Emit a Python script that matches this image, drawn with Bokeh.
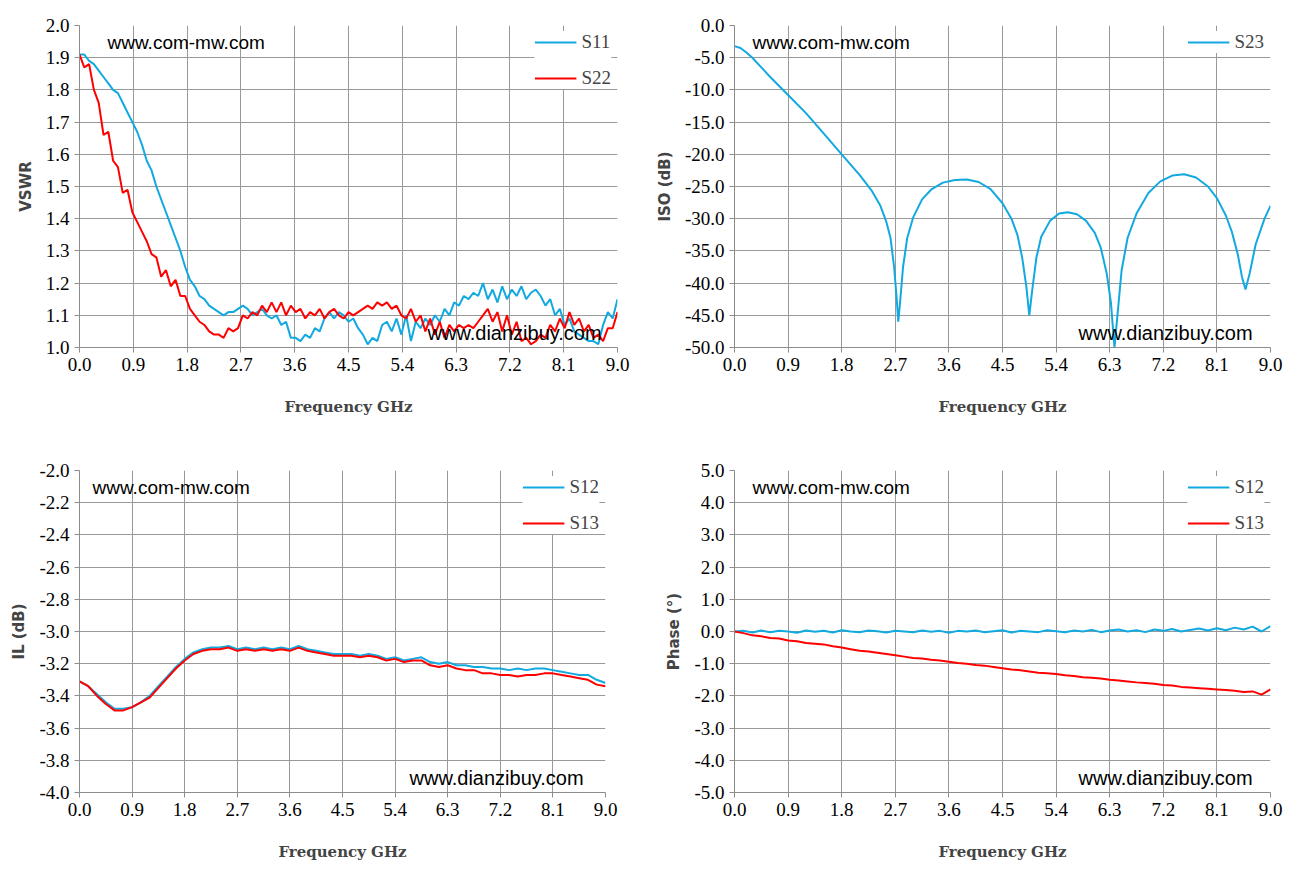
import numpy as np
from bokeh.plotting import figure
from bokeh.layouts import gridplot
from bokeh.models import FixedTicker, NumeralTickFormatter, Label, Legend, LegendItem, Range1d
from bokeh.embed import file_html
from bokeh.resources import INLINE

# VSWR (0..9 GHz, equal steps)
s11_vswr = [1.91, 1.91, 1.89, 1.88, 1.86, 1.84, 1.82, 1.80, 1.79, 1.76, 1.73, 1.70, 1.67, 1.63, 1.58, 1.55,
            1.50, 1.46, 1.42, 1.38, 1.34, 1.30, 1.25, 1.21, 1.19, 1.16, 1.15, 1.13, 1.12, 1.11, 1.10, 1.11,
            1.11, 1.12, 1.13, 1.12, 1.10, 1.11, 1.12, 1.10, 1.09, 1.10, 1.07, 1.08, 1.03, 1.03, 1.02, 1.04,
            1.03, 1.06, 1.05, 1.09, 1.11, 1.09, 1.11, 1.10, 1.08, 1.09, 1.06, 1.04, 1.01, 1.03, 1.02, 1.07,
            1.08, 1.05, 1.09, 1.04, 1.10, 1.02, 1.08, 1.06, 1.09, 1.07, 1.10, 1.08, 1.12, 1.10, 1.14, 1.13,
            1.16, 1.15, 1.17, 1.16, 1.20, 1.15, 1.18, 1.14, 1.19, 1.15, 1.18, 1.16, 1.19, 1.15, 1.17, 1.18,
            1.16, 1.13, 1.15, 1.10, 1.12, 1.07, 1.09, 1.05, 1.04, 1.03, 1.02, 1.02, 1.01, 1.07, 1.11, 1.09, 1.15]
s22_vswr = [1.91, 1.87, 1.88, 1.80, 1.76, 1.66, 1.67, 1.58, 1.56, 1.48, 1.49, 1.42, 1.39, 1.36, 1.33, 1.29,
            1.28, 1.22, 1.24, 1.19, 1.21, 1.16, 1.16, 1.12, 1.10, 1.08, 1.07, 1.05, 1.04, 1.04, 1.03, 1.06,
            1.05, 1.06, 1.10, 1.09, 1.11, 1.10, 1.13, 1.11, 1.14, 1.11, 1.14, 1.10, 1.13, 1.11, 1.12, 1.09,
            1.11, 1.10, 1.12, 1.09, 1.11, 1.12, 1.10, 1.09, 1.11, 1.10, 1.11, 1.12, 1.13, 1.12, 1.14, 1.13,
            1.14, 1.12, 1.13, 1.10, 1.09, 1.12, 1.08, 1.10, 1.05, 1.09, 1.04, 1.08, 1.03, 1.07, 1.05, 1.07,
            1.06, 1.07, 1.06, 1.08, 1.10, 1.12, 1.08, 1.11, 1.05, 1.10, 1.04, 1.08, 1.02, 1.03, 1.01, 1.02,
            1.04, 1.03, 1.07, 1.05, 1.09, 1.06, 1.11, 1.07, 1.09, 1.05, 1.07, 1.03, 1.04, 1.02, 1.06, 1.06, 1.11]

# isolation S23
iso_f = [0.0, 0.1, 0.2, 0.3, 0.45, 0.6, 0.9, 1.2, 1.5, 1.8, 2.1, 2.3, 2.45, 2.55, 2.62, 2.68, 2.72, 2.75,
         2.78, 2.83, 2.9, 3.0, 3.15, 3.3, 3.5, 3.7, 3.9, 4.1, 4.3, 4.5, 4.65, 4.75, 4.83, 4.9, 4.95, 5.0,
         5.07, 5.15, 5.3, 5.45, 5.6, 5.75, 5.9, 6.05, 6.15, 6.25, 6.32, 6.38, 6.43, 6.5, 6.6, 6.75, 6.95,
         7.15, 7.35, 7.55, 7.75, 7.95, 8.1, 8.25, 8.35, 8.45, 8.52, 8.58, 8.65, 8.75, 8.9, 9.0]
s23_iso = [-3.2, -3.5, -4.2, -5.0, -6.5, -8.0, -10.8, -13.6, -16.8, -20.0, -23.2, -25.6, -28.0, -30.5,
           -33.0, -37.5, -42.0, -46.0, -43.0, -37.5, -33.0, -29.8, -27.0, -25.5, -24.4, -24.0, -23.9,
           -24.3, -25.4, -27.6, -30.0, -32.5, -36.0, -40.5, -45.0, -41.0, -36.0, -32.8, -30.3, -29.2,
           -29.0, -29.3, -30.3, -32.2, -34.5, -38.5, -43.0, -50.0, -45.0, -38.0, -33.0, -29.2, -26.0,
           -24.2, -23.3, -23.1, -23.6, -25.0, -26.8, -29.5, -32.0, -35.5, -39.0, -41.0, -38.5, -34.0,
           -30.0, -28.0]

# insertion loss
s12_il = [-3.31, -3.34, -3.39, -3.44, -3.48, -3.48, -3.47, -3.44, -3.40, -3.34, -3.28, -3.22, -3.17, -3.13,
          -3.11, -3.10, -3.10, -3.09, -3.11, -3.10, -3.11, -3.10, -3.11, -3.10, -3.11, -3.09, -3.11, -3.12,
          -3.13, -3.14, -3.14, -3.14, -3.15, -3.14, -3.15, -3.17, -3.16, -3.18, -3.17, -3.16, -3.19, -3.20,
          -3.19, -3.21, -3.21, -3.22, -3.22, -3.23, -3.23, -3.24, -3.23, -3.24, -3.23, -3.23, -3.24, -3.25,
          -3.26, -3.27, -3.27, -3.30, -3.32]
s13_il = [-3.31, -3.34, -3.40, -3.45, -3.49, -3.49, -3.47, -3.44, -3.41, -3.35, -3.29, -3.23, -3.18, -3.14,
          -3.12, -3.11, -3.11, -3.10, -3.12, -3.11, -3.12, -3.11, -3.12, -3.11, -3.12, -3.10, -3.12, -3.13,
          -3.14, -3.15, -3.15, -3.15, -3.16, -3.15, -3.16, -3.18, -3.17, -3.19, -3.18, -3.18, -3.21, -3.22,
          -3.21, -3.23, -3.24, -3.24, -3.26, -3.26, -3.27, -3.27, -3.28, -3.27, -3.27, -3.26, -3.26, -3.27,
          -3.28, -3.29, -3.30, -3.33, -3.34]

# phase
s12_ph = [0.0, 0.02, -0.03, 0.03, -0.02, 0.02, 0.0, -0.04, 0.03, -0.01, 0.02, -0.03, 0.04, 0.0, -0.02, 0.03,
          0.01, -0.03, 0.02, 0.0, -0.02, 0.03, -0.01, 0.02, -0.04, 0.02, 0.0, 0.03, -0.02, 0.01, 0.04, -0.03,
          0.02, 0.0, -0.02, 0.04, 0.01, -0.02, 0.03, 0.0, 0.05, -0.02, 0.03, 0.06, 0.0, 0.04, -0.02, 0.06,
          0.02, 0.08, 0.0, 0.05, 0.09, 0.03, 0.1, 0.04, 0.12, 0.06, 0.15, 0.0, 0.17]
s13_ph = [0.0, -0.05, -0.12, -0.15, -0.2, -0.22, -0.28, -0.3, -0.36, -0.38, -0.4, -0.46, -0.5, -0.55, -0.6,
          -0.62, -0.66, -0.7, -0.74, -0.78, -0.82, -0.84, -0.88, -0.9, -0.94, -0.98, -1.0, -1.04, -1.06,
          -1.1, -1.14, -1.18, -1.2, -1.24, -1.28, -1.3, -1.32, -1.36, -1.38, -1.42, -1.44, -1.46, -1.5,
          -1.52, -1.55, -1.58, -1.6, -1.62, -1.66, -1.68, -1.72, -1.74, -1.76, -1.78, -1.8, -1.82, -1.84,
          -1.88, -1.86, -1.96, -1.8]

x_ticks = [0, 0.9, 1.8, 2.7, 3.6, 4.5, 5.4, 6.3, 7.2, 8.1, 9.0]
BLUE = "#12a9e0"
RED = "#ff0000"
W, H = 642, 432


def make(ylabel, yr, ystep, fleft, ftop, fw):
    p = figure(width=W, height=H, output_backend="svg", toolbar_location=None,
               x_range=Range1d(0, 9), y_range=Range1d(*yr),
               frame_width=fw, frame_height=322,
               min_border_left=fleft, min_border_top=ftop,
               min_border_right=W - fleft - fw, min_border_bottom=H - ftop - 322)
    p.outline_line_color = None
    p.xaxis.ticker = FixedTicker(ticks=x_ticks)
    yt = list(np.round(np.arange(yr[0], yr[1] + 1e-9, ystep), 2))
    p.yaxis.ticker = FixedTicker(ticks=yt)
    p.xaxis.formatter = NumeralTickFormatter(format="0.0")
    p.yaxis.formatter = NumeralTickFormatter(format="0.0")
    for ax in (p.xaxis, p.yaxis):
        ax.axis_line_color = "#8c8c8c"
        ax.major_tick_line_color = "#8c8c8c"
        ax.minor_tick_line_color = None
        ax.major_tick_in = 0
        ax.major_tick_out = 5
        ax.major_label_text_font = "Liberation Sans Narrow"
        ax.major_label_text_font_size = "19px"
        ax.major_label_text_color = "#000000"
    p.xaxis.axis_label = "Frequency GHz"
    p.xaxis.axis_label_text_font = "DejaVu Serif"
    p.xaxis.axis_label_text_font_size = "15px"
    p.xaxis.axis_label_text_font_style = "bold"
    p.xaxis.axis_label_standoff = 24
    p.yaxis.axis_label = ylabel
    p.yaxis.axis_label_text_font = "DejaVu Sans"
    p.yaxis.axis_label_text_font_size = "15px"
    p.yaxis.axis_label_text_font_style = "bold"
    p.yaxis.axis_label_standoff = 8
    p.xgrid.ticker = FixedTicker(ticks=x_ticks)
    p.ygrid.ticker = FixedTicker(ticks=yt)
    p.grid.grid_line_color = "#999999"
    p.grid.grid_line_alpha = 1.0
    return p


def watermark(p, top_txt_x, bottom_txt_x):
    p.add_layout(Label(x=top_txt_x, y=322 - 6, x_units="screen", y_units="screen",
                       text="www.com-mw.com", text_baseline="top", text_font="Liberation Sans",
                       text_font_size="19px", text_color="#000000"))
    p.add_layout(Label(x=bottom_txt_x, y=4, x_units="screen", y_units="screen",
                       text="www.dianzibuy.com", text_baseline="bottom", text_font="Liberation Sans",
                       text_font_size="20px", text_color="#000000"))


def legend(p, items):
    lg = Legend(items=items, location="top_right", border_line_color=None,
                background_fill_color="white", background_fill_alpha=1.0,
                label_text_font="Liberation Sans Narrow", label_text_font_size="19px",
                glyph_width=42, spacing=14, padding=10, margin=6)
    p.add_layout(lg)


f_vswr = np.linspace(0, 9, len(s11_vswr))
f_vswr2 = np.linspace(0, 9, len(s22_vswr))
p1 = make("VSWR", (1.0, 2.0), 0.1, 67, 22, 538)
watermark(p1, 28, 348)
r1 = p1.line(f_vswr, s11_vswr, line_color=BLUE, line_width=2)
r2 = p1.line(f_vswr2, s22_vswr, line_color=RED, line_width=2)
legend(p1, [LegendItem(label="S11", renderers=[r1]), LegendItem(label="S22", renderers=[r2])])

p2 = make("ISO (dB)", (-50.0, 0.0), 5, 92, 25, 536)
watermark(p2, 18, 344)
r3 = p2.line(iso_f, s23_iso, line_color=BLUE, line_width=2)
legend(p2, [LegendItem(label="S23", renderers=[r3])])

f_il = np.linspace(0, 9, len(s12_il))
p3 = make("IL (dB)", (-4.0, -2.0), 0.2, 79, 38, 526)
watermark(p3, 13, 330)
r4 = p3.line(f_il, s12_il, line_color=BLUE, line_width=2)
r5 = p3.line(f_il, s13_il, line_color=RED, line_width=2)
legend(p3, [LegendItem(label="S12", renderers=[r4]), LegendItem(label="S13", renderers=[r5])])

f_ph = np.linspace(0, 9, len(s12_ph))
p4 = make("Phase (°)", (-5.0, 5.0), 1.0, 92, 38, 536)
watermark(p4, 18, 344)
r6 = p4.line(f_ph, s12_ph, line_color=BLUE, line_width=2)
r7 = p4.line(f_ph, s13_ph, line_color=RED, line_width=2)
legend(p4, [LegendItem(label="S12", renderers=[r6]), LegendItem(label="S13", renderers=[r7])])

p = gridplot([[p1, p2], [p3, p4]], toolbar_location=None)
open("out.html", "w").write(file_html(p, INLINE))
